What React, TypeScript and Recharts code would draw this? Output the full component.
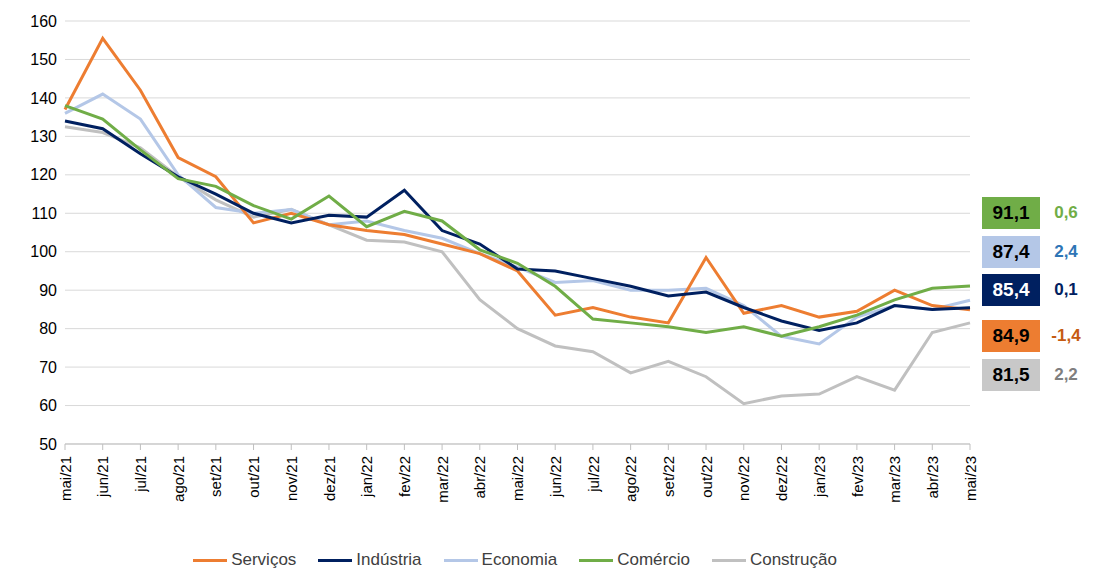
import React from 'react';
import { LineChart, Line, XAxis, YAxis, CartesianGrid, Legend } from 'recharts';

const months = ['mai/21','jun/21','jul/21','ago/21','set/21','out/21','nov/21','dez/21','jan/22','fev/22','mar/22','abr/22','mai/22','jun/22','jul/22','ago/22','set/22','out/22','nov/22','dez/22','jan/23','fev/23','mar/23','abr/23','mai/23'];
const servicos = [137,155.5,142,124.5,119.5,107.5,110,107,105.5,104.5,102,99.5,95,83.5,85.5,83,81.5,98.5,84,86,83,84.5,90,86,84.9];
const industria = [134,132,125.5,119.5,115,110,107.5,109.5,109,116,105.5,102,95.5,95,93,91,88.5,89.5,85.5,82,79.5,81.5,86,85,85.4];
const economia = [136,141,134.5,120,111.5,110,111,107,108,105.5,103.5,99.5,96,92,92.5,90,90,90.5,86,78,76,83,86,85,87.4];
const comercio = [138,134.5,126.5,119,117,112,108.5,114.5,106.5,110.5,108,100.5,97,91,82.5,81.5,80.5,79,80.5,78,80.5,83.5,87.5,90.5,91.1];
const construcao = [132.5,131,127,119.5,113.5,109,111,107,103,102.5,100,87.5,80,75.5,74,68.5,71.5,67.5,60.5,62.5,63,67.5,64,79,81.5];
const yTicks = [50,60,70,80,90,100,110,120,130,140,150,160];

const series = [
  { key: 'construcao', name: 'Construção', color: '#c0c0c0' },
  { key: 'economia', name: 'Economia', color: '#b4c7e7' },
  { key: 'servicos', name: 'Serviços', color: '#ed7d31' },
  { key: 'industria', name: 'Indústria', color: '#002060' },
  { key: 'comercio', name: 'Comércio', color: '#70ad47' },
];
const legendOrder = ['servicos', 'industria', 'economia', 'comercio', 'construcao'];

const badges = [
  { value: '91,1', delta: '0,6', box: '#70ad47', text: '#000', deltaColor: '#70ad47', top: 197 },
  { value: '87,4', delta: '2,4', box: '#b4c7e7', text: '#000', deltaColor: '#2e75b6', top: 236 },
  { value: '85,4', delta: '0,1', box: '#002060', text: '#fff', deltaColor: '#002060', top: 274 },
  { value: '84,9', delta: '-1,4', box: '#ed7d31', text: '#000', deltaColor: '#c55a11', top: 320 },
  { value: '81,5', delta: '2,2', box: '#c8c8c8', text: '#000', deltaColor: '#7f7f7f', top: 359 },
];

const data = months.map((m, i) => ({
  month: m,
  servicos: servicos[i],
  industria: industria[i],
  economia: economia[i],
  comercio: comercio[i],
  construcao: construcao[i],
}));

const font = '"Liberation Sans", Arial, sans-serif';

const renderLegend = () => (
  <div style={{ display: 'flex', justifyContent: 'center', gap: 22, fontSize: 17, color: '#404040', paddingLeft: 60 }}>
    {legendOrder.map((k) => {
      const s = series.find((x) => x.key === k)!;
      return (
        <span key={k} style={{ display: 'flex', alignItems: 'center' }}>
          <span style={{ display: 'inline-block', width: 34, height: 3, background: s.color, marginRight: 4 }} />
          {s.name}
        </span>
      );
    })}
  </div>
);

export default function App() {
  return (
    <div style={{ position: 'absolute', left: 0, top: 0, width: 1098, height: 572, background: '#fff', fontFamily: font }}>
      <LineChart width={1098} height={572} data={data} margin={{ top: 21, right: 128, bottom: 2, left: 0 }}>
        <CartesianGrid vertical={false} stroke="#d9d9d9" />
        <XAxis
          dataKey="month"
          interval={0}
          angle={-90}
          textAnchor="end"
          height={88}
          tick={{ fontSize: 15, fill: '#000', dx: -5, dy: 4 }}
          stroke="#bfbfbf"
        />
        <YAxis
          domain={[50, 160]}
          ticks={yTicks}
          width={65}
          axisLine={false}
          tickLine={false}
          tick={{ fontSize: 16, fill: '#000' }}
        />
        <Legend verticalAlign="bottom" content={renderLegend} wrapperStyle={{ paddingTop: 18 }} />
        {series.map((s) => (
          <Line
            key={s.key}
            dataKey={s.key}
            name={s.name}
            stroke={s.color}
            strokeWidth={3}
            dot={false}
            type="linear"
            isAnimationActive={false}
          />
        ))}
      </LineChart>
      {badges.map((b) => (
        <div key={b.value} style={{ position: 'absolute', left: 982, top: b.top, display: 'flex', alignItems: 'center' }}>
          <div style={{ width: 58, height: 32, background: b.box, color: b.text, fontWeight: 'bold', fontSize: 19, display: 'flex', alignItems: 'center', justifyContent: 'center' }}>{b.value}</div>
          <div style={{ width: 52, textAlign: 'center', color: b.deltaColor, fontWeight: 'bold', fontSize: 17 }}>{b.delta}</div>
        </div>
      ))}
    </div>
  );
}
